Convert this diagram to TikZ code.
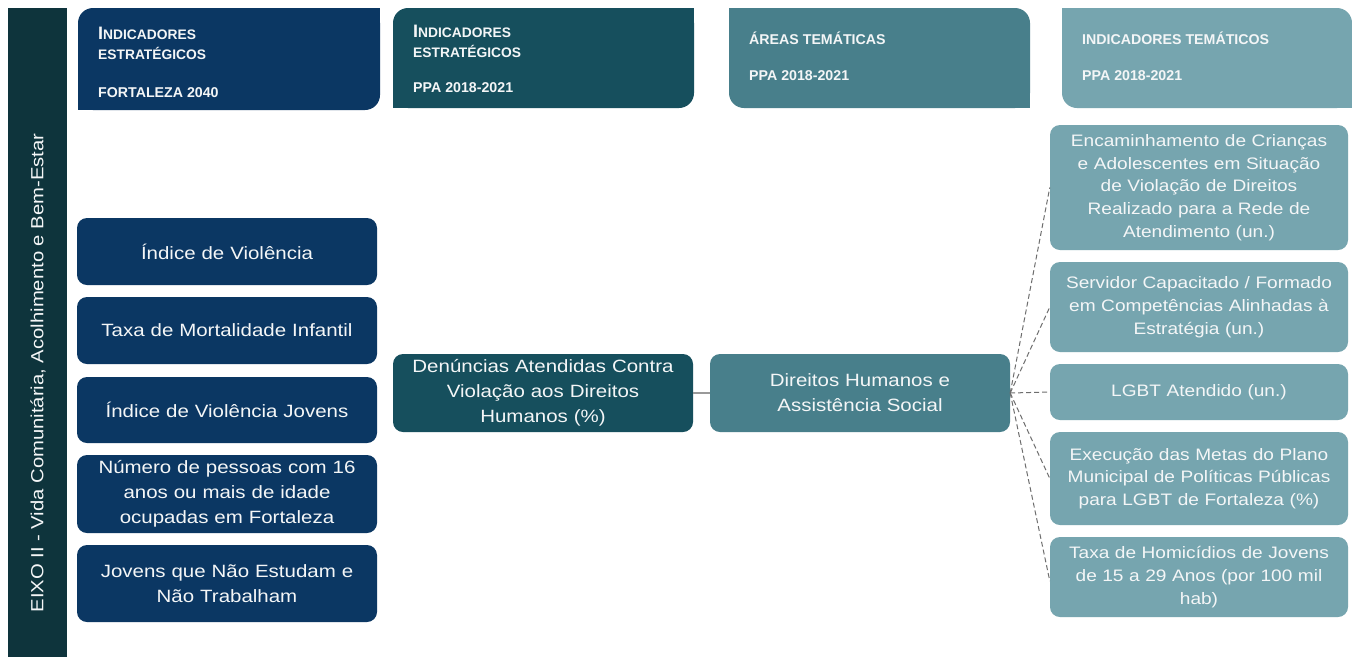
\documentclass[tikz,border=0pt]{standalone}
\usepackage{fontspec}
\setmainfont{Liberation Sans}
\newfontfamily\bodyf{Liberation Sans}[FakeStretch=1.15]
\definecolor{cbar}{HTML}{0E343C}
\definecolor{cnavy}{HTML}{0B3763}
\definecolor{cdteal}{HTML}{164F5D}
\definecolor{cmteal}{HTML}{487F8B}
\definecolor{clteal}{HTML}{76A5AF}
\definecolor{ctxt}{HTML}{F4F6F7}
\definecolor{cline}{HTML}{6E6E6E}
\newcommand\bigsc[2]{{\fontsize{18}{18}\selectfont #1}{\fontsize{13.8}{14}\selectfont #2}}
\newcommand\smsc[1]{{\fontsize{13.8}{14}\selectfont #1}}
\begin{document}
\begin{tikzpicture}[x=1pt,y=-1pt,
  hdr/.style={rounded corners=15pt, inner sep=0pt, draw=none},
  htext/.style={anchor=base west, inner sep=0pt, text=ctxt, font=\bfseries\fontsize{14.2}{15}\selectfont},
  gbox/.style={rounded corners=10pt, inner xsep=5pt, inner ysep=0pt, minimum width=300pt, text width=290pt, align=center, text=ctxt, font=\bodyf\fontsize{17.8}{25}\selectfont},
  rbox/.style={gbox, fill=clteal, minimum width=298pt, text width=288pt, font=\bodyf\fontsize{16.6}{22.8}\selectfont},
  conn/.style={draw=cline, line width=1pt, dash pattern=on 5pt off 3pt},
  link/.style={draw=gray!80, line width=1.4pt}]
\useasboundingbox (0,0) rectangle (1352,657);
\fill[white] (0,0) rectangle (1352,657);

% left vertical bar
\fill[cbar] (8,8) rectangle (67,657);
\node[rotate=90, inner sep=0pt, text=ctxt, font=\bodyf\fontsize{17.6}{18}\selectfont] (axis) at (38,373) {EIXO II - Vida Comunitária, Acolhimento e Bem-Estar};

% headers
\node[hdr, fill=cnavy, minimum width=302pt, minimum height=102pt] (h1) at (229,59) {};
\fill[cnavy] (h1.north east) rectangle ++(-20,20);
\fill[cnavy] (h1.south west) rectangle ++(20,-20);
\node[hdr, fill=cdteal, minimum width=301pt, minimum height=100pt] (h2) at (543.5,58) {};
\fill[cdteal] (h2.north east) rectangle ++(-20,20);
\fill[cdteal] (h2.south west) rectangle ++(20,-20);
\node[hdr, fill=cmteal, minimum width=301pt, minimum height=100pt] (h3) at (879.5,58) {};
\fill[cmteal] (h3.north west) rectangle ++(20,20);
\fill[cmteal] (h3.south east) rectangle ++(-20,-20);
\node[hdr, fill=clteal, minimum width=290pt, minimum height=100pt] (h4) at (1207,58) {};
\fill[clteal] (h4.north west) rectangle ++(20,20);
\fill[clteal] (h4.south east) rectangle ++(-20,-20);

\node[htext] (h1a) at (98,39) {\bigsc{I}{NDICADORES}};
\node[htext] (h1b) at (98,59) {\smsc{ESTRATÉGICOS}};
\node[htext] (h1c) at (98,97) {FORTALEZA 2040};
\node[htext] (h2a) at (413,37) {\bigsc{I}{NDICADORES}};
\node[htext] (h2b) at (413,57) {\smsc{ESTRATÉGICOS}};
\node[htext] (h2c) at (413,92) {PPA 2018-2021};
\node[htext] (h3a) at (749,44) {ÁREAS TEMÁTICAS};
\node[htext] (h3b) at (749,80) {PPA 2018-2021};
\node[htext] (h4a) at (1082,44) {INDICADORES TEMÁTICOS};
\node[htext] (h4b) at (1082,80) {PPA 2018-2021};

% left column
\node[gbox, fill=cnavy, minimum height=67pt] (l1) at (227,251.5) {Índice de Violência};
\node[gbox, fill=cnavy, minimum height=67pt] (l2) at (227,330.5) {Taxa de Mortalidade Infantil};
\node[gbox, fill=cnavy, minimum height=66pt] (l3) at (227,410) {Índice de Violência Jovens};
\node[gbox, fill=cnavy, minimum height=78pt] (l4) at (227,494) {Número de pessoas com 16\\anos ou mais de idade\\ocupadas em Fortaleza};
\node[gbox, fill=cnavy, minimum height=77pt] (l5) at (227,583.5) {Jovens que Não Estudam e\\Não Trabalham};

% middle
\node[gbox, fill=cdteal, minimum height=78pt] (m) at (543,393) {Denúncias Atendidas Contra\\Violação aos Direitos\\Humanos (\%)};
\node[gbox, fill=cmteal, minimum height=78pt] (a) at (860,393) {Direitos Humanos e\\Assistência Social};

% right column
\node[rbox, minimum height=125pt] (r1) at (1199,187.5) {Encaminhamento de Crianças\\e Adolescentes em Situação\\de Violação de Direitos\\Realizado para a Rede de\\Atendimento (un.)};
\node[rbox, minimum height=90pt] (r2) at (1199,307) {Servidor Capacitado / Formado\\em Competências Alinhadas à\\Estratégia (un.)};
\node[rbox, minimum height=56pt] (r3) at (1199,392) {LGBT Atendido (un.)};
\node[rbox, minimum height=93pt] (r4) at (1199,478.5) {Execução das Metas do Plano\\Municipal de Políticas Públicas\\para LGBT de Fortaleza (\%)};
\node[rbox, minimum height=80pt] (r5) at (1199,577) {Taxa de Homicídios de Jovens\\de 15 a 29 Anos (por 100 mil\\hab)};

% connectors
\draw[link] (m.east) -- (a.west);
\draw[conn] (a.east) -- (r1.west);
\draw[conn] (a.east) -- (r2.west);
\draw[conn] (a.east) -- (r3.west);
\draw[conn] (a.east) -- (r4.west);
\draw[conn] (a.east) -- ([yshift=-4pt]r5.west);
\end{tikzpicture}
\end{document}
